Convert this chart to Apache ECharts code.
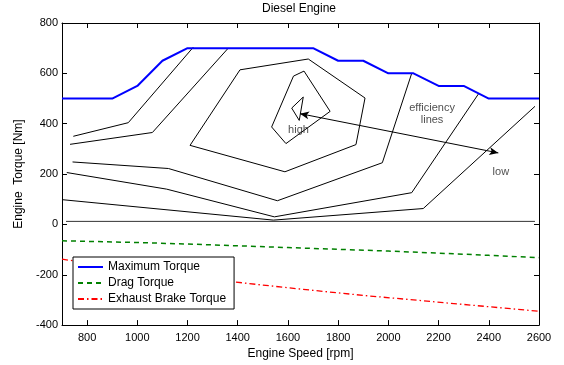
<!DOCTYPE html>
<html>
<head>
<meta charset="utf-8">
<script src="https://cdn.jsdelivr.net/npm/echarts@6/dist/echarts.min.js"></script>
<style>
    html, body {margin:0; padding:0; background:#fff;}
    #engine {width:564px; height:365px;}
</style>
</head>
<body>
<div id="engine"></div>
<script>
// 数据 ---------------------------------
var speedMin = 700, speedMax = 2600;
var torqueMin = -400, torqueMax = 800;
var speedTicks = [800,1000,1200,1400,1600,1800,2000,2200,2400,2600];

var maxTorque = [[700,500],[900,500],[1000,550],[1100,650],[1200,700],[1700,700],[1800,650],
    [1900,650],[2000,600],[2100,600],[2200,550],[2300,550],[2400,500],[2600,500]];
var dragTorque = [[700,-65],[1000,-72],[1200,-78],[1400,-85],[1600,-92],[1800,-99],
    [2000,-106],[2200,-114],[2400,-123],[2600,-132]];
var brakeTorque = [[700,-138],[900,-168],[1100,-195],[1300,-219],[1500,-241],[1700,-262],
    [1900,-282],[2100,-300],[2300,-318],[2500,-336],[2600,-345]];

// efficiency lines
var effA = [[745,350],[964,404],[1223,704]];
var effB = [[732,318],[1060,365],[1363,701]];
var effC = [[1210,314],[1409,614],[1681,657],[1907,502],[1871,317],[1588,209],[1210,314]];
var effD = [[1622,589],[1664,609],[1768,449],[1592,321],[1535,387],[1622,589]];
var effE = [[1615,462],[1661,506],[1645,413],[1615,462]];
var effX = [[742,248],[1124,222],[1558,94],[1976,245],[2093,600]];
var effY = [[719,206],[1117,140],[1546,30],[2093,126],[2360,520]];
var effZ = [[703,98],[1542,17],[2139,63],[2584,469]];
var zeroLine = [[716,12],[2584,12]];

var arrowLine = [[1648,440],[2438,284]];
var notes = [[1642,377,'high'],[2174,440,'efficiency\nlines'],[2448,209,'low']];

var font = 'Liberation Sans, Arial, Helvetica, sans-serif';

function effSeries(name, data, color) {
    return {
        name: name,
        type: 'line',
        data: data,
        symbol: 'none',
        silent: true,
        z: 1,
        lineStyle: {color: color || '#000', width: 1}
    };
}

function initChart() {
    var myChart = echarts.init(document.getElementById('engine'));

    var tickStyle = {show:true, inside:true, length:5, lineStyle:{color:'#000', width:1}};
    var xTick = {show:true, inside:true, length:5, customValues: speedTicks, lineStyle:{color:'#000', width:1}};
    var lineStyle = {show:true, onZero:false, lineStyle:{color:'#000', width:1}};

    var option = {
        animation: false,
        textStyle: {fontFamily: font},
        title: {
            text: 'Diesel Engine',
            left: 262, top: 3, padding: 0,
            textStyle: {fontSize: 12, fontWeight: 'normal', color: '#000', fontFamily: font}
        },
        grid: {left: 62, right: 25, top: 23, bottom: 39},
        legend: {
            data: ['Maximum Torque','Drag Torque','Exhaust Brake Torque'],
            orient: 'vertical',
            left: 73, top: 257,
            padding: [4, 8, 4, 4],
            itemWidth: 25, itemHeight: 12, itemGap: 4,
            itemStyle: {opacity: 0},
            backgroundColor: '#fff',
            borderColor: '#000', borderWidth: 1, borderRadius: 0,
            textStyle: {fontSize: 12, color: '#000', fontFamily: font, lineHeight: 12}
        },
        xAxis: [
            {
                type: 'value', min: speedMin, max: speedMax, interval: 100,
                name: 'Engine Speed [rpm]', nameLocation: 'middle', nameGap: 19,
                nameTextStyle: {fontSize: 12, color: '#000'},
                axisLine: lineStyle, axisTick: xTick,
                axisLabel: {
                    fontSize: 11, color: '#000', margin: 7, customValues: speedTicks,
                    formatter: function (v) { return String(v); }
                },
                splitLine: {show: false}
            },
            {
                type: 'value', position: 'top', min: speedMin, max: speedMax, interval: 100,
                axisLine: lineStyle, axisTick: xTick,
                axisLabel: {show: false}, splitLine: {show: false}
            }
        ],
        yAxis: [
            {
                type: 'value', min: torqueMin, max: torqueMax, interval: 200,
                name: 'Engine  Torque [Nm]', nameLocation: 'middle', nameGap: 37,
                nameTextStyle: {fontSize: 12, color: '#000'},
                axisLine: lineStyle, axisTick: tickStyle,
                axisLabel: {fontSize: 11, color: '#000', margin: 4},
                splitLine: {show: false}
            },
            {
                type: 'value', position: 'right', min: torqueMin, max: torqueMax, interval: 200,
                axisLine: lineStyle, axisTick: tickStyle,
                axisLabel: {show: false}, splitLine: {show: false}
            }
        ],
        series: [
            effSeries('effA', effA),
            effSeries('effB', effB),
            effSeries('effC', effC),
            effSeries('effD', effD),
            effSeries('effE', effE),
            effSeries('effX', effX),
            effSeries('effY', effY),
            effSeries('effZ', effZ),
            effSeries('zero', zeroLine, '#333'),
            {
                name: 'arrow', type: 'line', data: [], silent: true,
                markLine: {
                    silent: true,
                    symbol: ['arrow','arrow'], symbolSize: [6, 9],
                    label: {show: false},
                    lineStyle: {color: '#000', width: 1, type: 'solid'},
                    data: [[{coord: arrowLine[0]}, {coord: arrowLine[1]}]]
                }
            },
            {
                name: 'notes', type: 'scatter', data: notes, symbolSize: 0, silent: true,
                label: {
                    show: true, position: 'inside', fontSize: 11, color: '#222',
                    lineHeight: 12, fontFamily: font,
                    formatter: function (p) { return p.data[2]; }
                }
            },
            {
                name: 'Maximum Torque', type: 'line', data: maxTorque, symbol: 'none', z: 3,
                lineStyle: {color: '#0000ff', width: 2}, itemStyle: {color: '#0000ff'}
            },
            {
                name: 'Drag Torque', type: 'line', data: dragTorque, symbol: 'none', z: 3,
                lineStyle: {color: '#008000', width: 1.5, type: [5, 4]}, itemStyle: {color: '#008000'}
            },
            {
                name: 'Exhaust Brake Torque', type: 'line', data: brakeTorque, symbol: 'none', z: 3,
                lineStyle: {color: '#ff0000', width: 1.3, type: [6, 3, 1.5, 3]}, itemStyle: {color: '#ff0000'}
            }
        ]
    };

    myChart.setOption(option);
}

initChart();
</script>
</body>
</html>
